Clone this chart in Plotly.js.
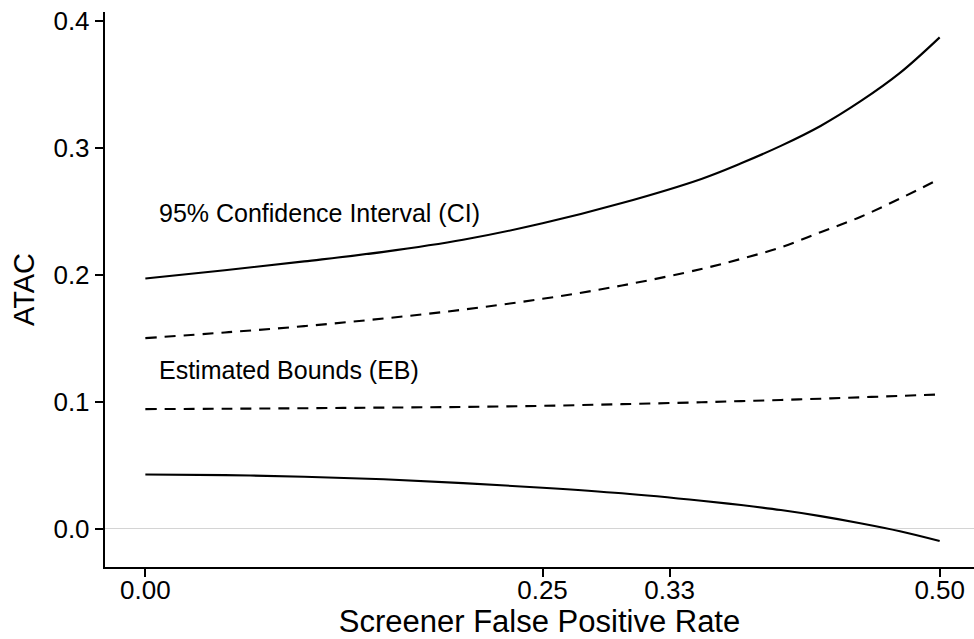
<!DOCTYPE html>
<html>
<head>
<meta charset="utf-8">
<script src="https://cdn.plot.ly/plotly-3.0.1.min.js"></script>
<style>html,body{margin:0;padding:0;background:#fff;}#chart{width:974px;height:639px;}</style>
</head>
<body>
<div id="chart"></div>
<script>
// Screener false positive rate
const fpr = [0.00, 0.05, 0.10, 0.15, 0.20, 0.25, 0.30, 0.35, 0.375, 0.40, 0.425, 0.45, 0.475, 0.50];
// 95% confidence interval bounds
const ciUpper = [0.197, 0.2035, 0.2105, 0.218, 0.2275, 0.2405, 0.2565, 0.2755, 0.2878, 0.3015, 0.3172, 0.3365, 0.359, 0.387];
const ciLower = [0.0426, 0.0421, 0.0408, 0.0388, 0.0358, 0.0322, 0.0278, 0.0219, 0.0185, 0.0146, 0.0098, 0.0042, -0.0021, -0.0098];
// Estimated bounds
const ebUpper = [0.150, 0.1545, 0.1595, 0.1655, 0.1725, 0.181, 0.1915, 0.2045, 0.2125, 0.2215, 0.2335, 0.2455, 0.260, 0.2755];
const ebLower = [0.0941, 0.0944, 0.0948, 0.0953, 0.0958, 0.0967, 0.0980, 0.0995, 0.1004, 0.1013, 0.1023, 0.1034, 0.1045, 0.1057];
// Tick labels
const xTickVals = [0.00, 0.25, 0.33, 0.50];
const xTickText = ["0.00", "0.25", "0.33", "0.50"];
const yTickVals = [0.0, 0.1, 0.2, 0.3, 0.4];
const yTickText = ["0.0", "0.1", "0.2", "0.3", "0.4"];
const labels = [
  {text: "95% Confidence Interval (CI)", x: 0.0074, y: 0.2487},
  {text: "Estimated Bounds (EB)", x: 0.0074, y: 0.1248}
];

const FONT = "'Liberation Sans', Arial, sans-serif";
const solid = {color: "#000", width: 2.1, shape: "spline", smoothing: 1};
const dashed = {color: "#000", width: 2.1, dash: "11px,8px", shape: "spline", smoothing: 1};

const traces = [
  {x: fpr, y: ciUpper, mode: "lines", line: solid, hoverinfo: "skip"},
  {x: fpr, y: ciLower, mode: "lines", line: solid, hoverinfo: "skip"},
  {x: fpr, y: ebUpper, mode: "lines", line: dashed, hoverinfo: "skip"},
  {x: fpr, y: ebLower, mode: "lines", line: dashed, hoverinfo: "skip"}
];

const layout = {
  width: 974, height: 639,
  margin: {l: 105, r: 0, t: 12, b: 72, pad: 0},
  paper_bgcolor: "#fff", plot_bgcolor: "#fff",
  showlegend: false,
  font: {family: FONT, color: "#000"},
  xaxis: {
    range: [-0.0254, 0.5216],
    tickmode: "array", tickvals: xTickVals, ticktext: xTickText,
    showgrid: false, zeroline: false,
    showline: true, linecolor: "#000", linewidth: 2.2,
    ticks: "outside", ticklen: 8, tickwidth: 2, tickcolor: "#000",
    ticklabelstandoff: -9,
    tickfont: {family: FONT, size: 26, color: "#000"},
    title: {text: "Screener False Positive Rate", font: {family: FONT, size: 31, color: "#000"}, standoff: 9}
  },
  yaxis: {
    range: [-0.0303, 0.407],
    tickmode: "array", tickvals: yTickVals, ticktext: yTickText,
    showgrid: false,
    zeroline: true, zerolinecolor: "#d4d4d4", zerolinewidth: 1.6,
    showline: true, linecolor: "#000", linewidth: 2.2,
    ticks: "outside", ticklen: 8, tickwidth: 2, tickcolor: "#000",
    tickfont: {family: FONT, size: 26, color: "#000"},
    title: {text: "ATAC", font: {family: FONT, size: 29, color: "#000"}, standoff: 10}
  },
  annotations: labels.map(l => ({
    text: l.text, x: l.x, y: l.y, xref: "x", yref: "y",
    xanchor: "left", yanchor: "middle", showarrow: false,
    font: {family: FONT, size: 25, color: "#000"}
  }))
};

Plotly.newPlot("chart", traces, layout, {staticPlot: true, displayModeBar: false});
</script>
</body>
</html>
